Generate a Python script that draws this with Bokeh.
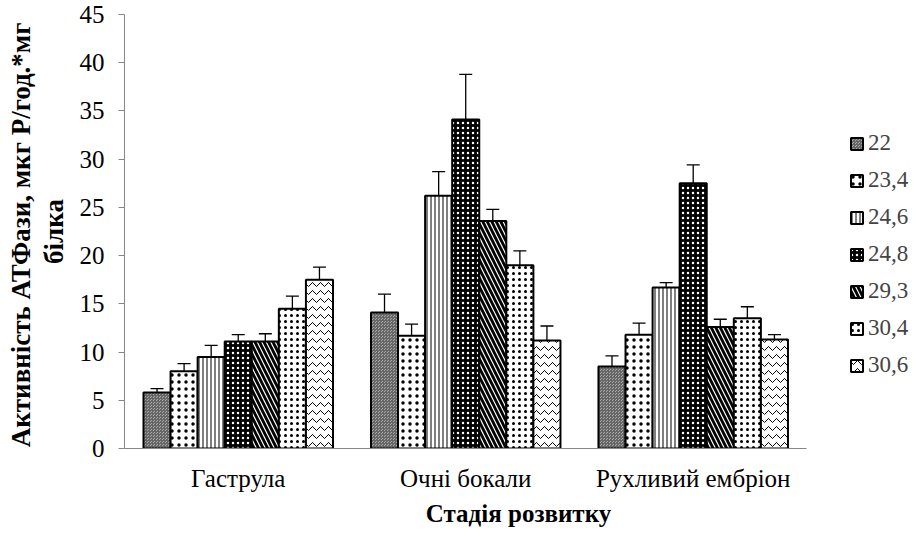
from bokeh.plotting import figure
from bokeh.models import (ColumnDataSource, Range1d, FixedTicker,
                          Whisker, Legend, LegendItem)
from bokeh.transform import dodge
from bokeh.embed import file_html
from bokeh.resources import INLINE

stages = ["Гаструла", "Очні бокали", "Рухливий ембріон"]
series = ["22", "23,4", "24,6", "24,8", "29,3", "30,4", "30,6"]

v_22 = [5.8, 14.1, 8.5]
v_234 = [8.0, 11.7, 11.8]
v_246 = [9.5, 26.2, 16.7]
v_248 = [11.1, 34.1, 27.5]
v_293 = [11.1, 23.6, 12.6]
v_304 = [14.5, 19.0, 13.5]
v_306 = [17.5, 11.2, 11.3]

e_22 = [0.4, 1.9, 1.1]
e_234 = [0.8, 1.2, 1.2]
e_246 = [1.2, 2.5, 0.5]
e_248 = [0.7, 4.7, 1.9]
e_293 = [0.8, 1.2, 0.8]
e_304 = [1.3, 1.5, 1.2]
e_306 = [1.3, 1.5, 0.5]

values = [v_22, v_234, v_246, v_248, v_293, v_304, v_306]
errors = [e_22, e_234, e_246, e_248, e_293, e_304, e_306]

styles = [
    dict(fill_color="#a8a8a8", hatch_pattern="criss_cross", hatch_color="#666666", hatch_scale=3, hatch_weight=1),
    dict(fill_color="white", hatch_pattern="dot", hatch_color="black", hatch_scale=7, hatch_weight=0.5),
    dict(fill_color="white", hatch_pattern="vertical_line", hatch_color="black", hatch_scale=4, hatch_weight=1),
    dict(fill_color="black", hatch_pattern="dot", hatch_color="white", hatch_scale=5, hatch_weight=0.5),
    dict(fill_color="white", hatch_pattern="left_diagonal_line", hatch_color="black", hatch_scale=9, hatch_weight=2.8),
    dict(fill_color="white", hatch_pattern="dot", hatch_color="black", hatch_scale=6, hatch_weight=2),
    dict(fill_color="white", hatch_pattern="horizontal_wave", hatch_color="black", hatch_scale=8, hatch_weight=1),
]

FONT = "Liberation Serif"

# category centres on a numeric axis; extra room on the right holds the legend
centers = [i + 0.5 for i in range(len(stages))]

p = figure(width=912, height=536, x_range=Range1d(0, 3.464), y_range=Range1d(0, 45),
           output_backend="svg", toolbar_location=None,
           min_border_left=124, min_border_right=0, min_border_top=14, min_border_bottom=88)
p.outline_line_color = None
p.xgrid.grid_line_color = None
p.ygrid.grid_line_color = None

bw = 0.119
items = []
for i, (name, vals, errs, st) in enumerate(zip(series, values, errors, styles)):
    src = ColumnDataSource(dict(xc=centers, stage=stages, top=vals,
                                lo=[v - e for v, e in zip(vals, errs)],
                                hi=[v + e for v, e in zip(vals, errs)]))
    off = (i - 3) * bw
    r = p.vbar(x=dodge("xc", off), top="top", width=bw, source=src,
               line_color="black", line_width=2, **st)
    w = Whisker(base=dodge("xc", off), lower="lo", upper="hi", source=src,
                line_color="black", line_width=1.3)
    w.upper_head.size = 13
    w.lower_head.size = 13
    w.upper_head.line_width = 1.3
    w.lower_head.line_width = 1.3
    p.add_layout(w)
    items.append(LegendItem(label=name, renderers=[r]))

legend = Legend(items=items, location=(725, 68), margin=0, padding=0,
                glyph_width=15, glyph_height=15, label_standoff=4,
                label_height=30, spacing=7,
                label_text_font=FONT, label_text_font_size="23px",
                border_line_color=None, background_fill_alpha=0)
p.add_layout(legend, "center")

p.yaxis.ticker = FixedTicker(ticks=list(range(0, 46, 5)))
p.xaxis.ticker = FixedTicker(ticks=centers)
p.xaxis.major_label_overrides = {c: s for c, s in zip(centers, stages)}
p.xaxis.bounds = (0, len(stages))

for ax in (p.xaxis, p.yaxis):
    ax.axis_line_color = "#868686"
    ax.major_label_text_font = FONT
    ax.major_label_text_color = "black"
    ax.axis_label_text_font = FONT
    ax.axis_label_text_font_style = "bold"
    ax.axis_label_text_color = "black"
    ax.minor_tick_line_color = None

p.yaxis.major_label_text_font_size = "25px"
p.yaxis.major_tick_line_color = "#868686"
p.yaxis.major_tick_out = 6
p.yaxis.major_tick_in = 0
p.yaxis.major_label_standoff = 14
p.yaxis.axis_label = "Активність  АТФази, мкг Р/год.*мг\nбілка"
p.yaxis.axis_label_text_font_size = "27px"
p.yaxis.axis_label_text_line_height = 1.1
p.yaxis.axis_label_standoff = 8

p.xaxis.major_label_text_font_size = "25px"
p.xaxis.major_tick_line_color = None
p.xaxis.major_tick_out = 0
p.xaxis.major_tick_in = 0
p.xaxis.major_label_standoff = 16
p.xaxis.axis_label = "Стадія розвитку"
p.xaxis.axis_label_text_font_size = "25px"
p.xaxis.axis_label_standoff = 5

open("out.html", "w").write(file_html(p, INLINE))
